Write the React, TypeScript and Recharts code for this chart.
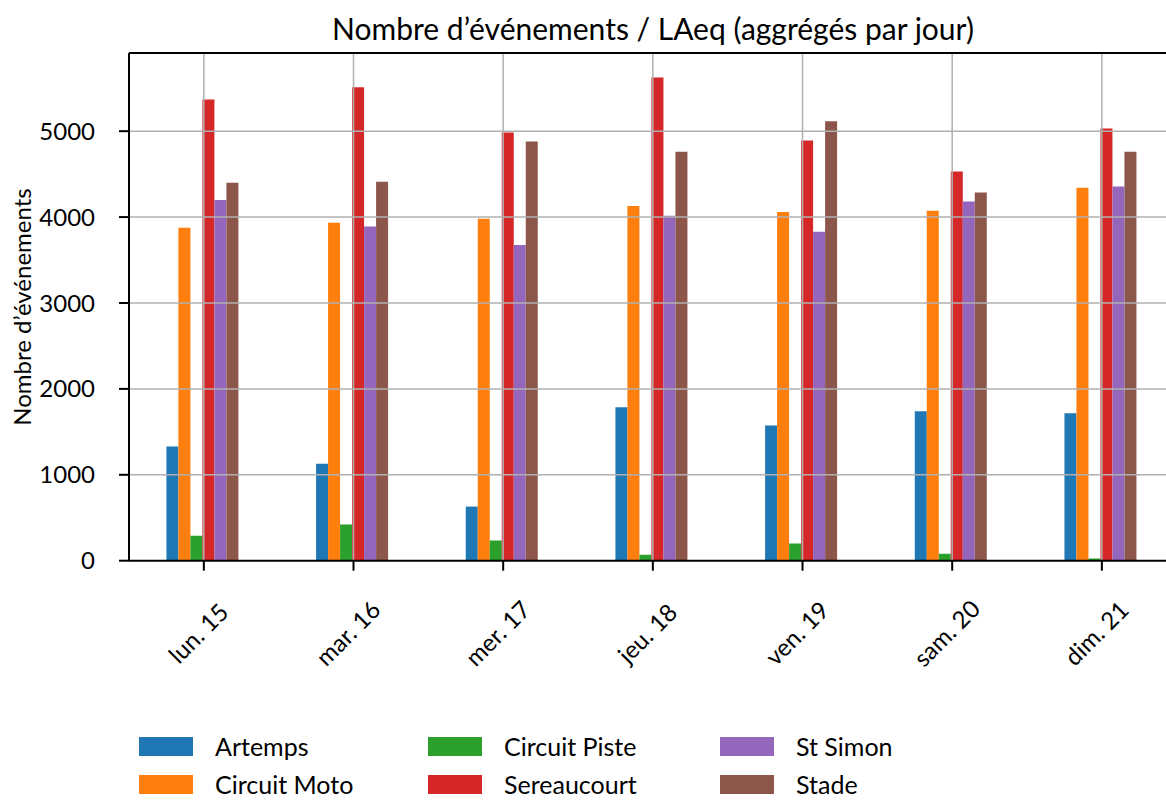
import { BarChart, Bar, XAxis, YAxis, ReferenceLine } from "recharts";

const days = ["lun. 15", "mar. 16", "mer. 17", "jeu. 18", "ven. 19", "sam. 20", "dim. 21"];

const artemps = [1330, 1130, 630, 1785, 1575, 1740, 1715];
const circuitMoto = [3875, 3935, 3980, 4130, 4060, 4075, 4340];
const circuitPiste = [290, 420, 235, 70, 200, 80, 25];
const sereaucourt = [5370, 5510, 4985, 5625, 4890, 4530, 5030];
const stSimon = [4200, 3890, 3675, 4015, 3830, 4180, 4355];
const stade = [4400, 4410, 4880, 4760, 5115, 4285, 4760];

const yTicks = [0, 1000, 2000, 3000, 4000, 5000];
const Y_MAX = 5910;

const SERIES = [
  { key: "Artemps", values: artemps, color: "#1f77b4" },
  { key: "Circuit Moto", values: circuitMoto, color: "#ff7f0e" },
  { key: "Circuit Piste", values: circuitPiste, color: "#2ca02c" },
  { key: "Sereaucourt", values: sereaucourt, color: "#d62728" },
  { key: "St Simon", values: stSimon, color: "#9467bd" },
  { key: "Stade", values: stade, color: "#8c564b" },
];

const data = days.map((day, i) => {
  const row: Record<string, string | number> = { day };
  SERIES.forEach((s) => (row[s.key] = s.values[i]));
  return row;
});

const FONT = "Lato, 'Liberation Sans', sans-serif";
const GRID = "#b0b0b0";

// rotated day labels, centred under the tick like matplotlib's rot=45
function DayTick({ x, y, payload }: any) {
  const cx = x - 6;
  const cy = y + 60;
  return (
    <text
      x={cx}
      y={cy}
      transform={`rotate(-45, ${cx}, ${cy})`}
      textAnchor="middle"
      dominantBaseline="central"
      fontSize={24}
      fontFamily={FONT}
      fill="#000"
    >
      {payload.value}
    </text>
  );
}

const legendCols = [139, 428, 720];
const legendRows = [737, 775];

export default function App() {
  return (
    <div
      style={{
        position: "absolute",
        left: 0,
        top: 0,
        width: 1166,
        height: 800,
        overflow: "hidden",
        background: "#fff",
        fontFamily: FONT,
        color: "#000",
      }}
    >
      <div
        style={{
          position: "absolute",
          left: 0,
          width: 1306,
          top: 10,
          textAlign: "center",
          fontSize: 30,
          lineHeight: "36px",
        }}
      >
        Nombre d’événements / LAeq (aggrégés par jour)
      </div>
      <div
        style={{
          position: "absolute",
          left: 22 - 200,
          top: 307 - 15,
          width: 400,
          height: 30,
          lineHeight: "30px",
          textAlign: "center",
          fontSize: 24,
          transform: "rotate(-90deg)",
        }}
      >
        Nombre d’événements
      </div>

      <BarChart
        width={1200}
        height={800}
        data={data}
        margin={{ top: 53, right: 23.3, bottom: 179.3, left: 29 }}
        barCategoryGap="25%"
        barGap={0}
      >
        <XAxis
          dataKey="day"
          height={60}
          tick={<DayTick />}
          tickSize={10}
          interval={0}
          axisLine={{ stroke: "#000", strokeWidth: 2 }}
          tickLine={{ stroke: "#000", strokeWidth: 2 }}
        />
        <YAxis
          width={100}
          domain={[0, Y_MAX]}
          ticks={yTicks}
          allowDataOverflow
          tickSize={10}
          tickMargin={24}
          tick={{ fontSize: 24, fontFamily: FONT, fill: "#000" }}
          axisLine={{ stroke: "#000", strokeWidth: 2 }}
          tickLine={{ stroke: "#000", strokeWidth: 2 }}
        />
        {SERIES.map((s) => (
          <Bar key={s.key} dataKey={s.key} fill={s.color} isAnimationActive={false} />
        ))}
        {yTicks.slice(1).map((t) => (
          <ReferenceLine key={`h${t}`} y={t} stroke={GRID} strokeWidth={1.5} />
        ))}
        {days.map((d) => (
          <ReferenceLine key={`v${d}`} x={d} stroke={GRID} strokeWidth={1.5} />
        ))}
        <ReferenceLine y={Y_MAX} stroke="#000" strokeWidth={2} />
      </BarChart>

      {SERIES.map((s, i) => {
        const left = legendCols[Math.floor(i / 2)];
        const top = legendRows[i % 2];
        return (
          <div
            key={s.key}
            style={{ position: "absolute", left, top, height: 19, display: "flex", alignItems: "center" }}
          >
            <div style={{ width: 54, height: 19, background: s.color }} />
            <span style={{ marginLeft: 22, fontSize: 25, lineHeight: "19px", whiteSpace: "nowrap" }}>
              {s.key}
            </span>
          </div>
        );
      })}
    </div>
  );
}
